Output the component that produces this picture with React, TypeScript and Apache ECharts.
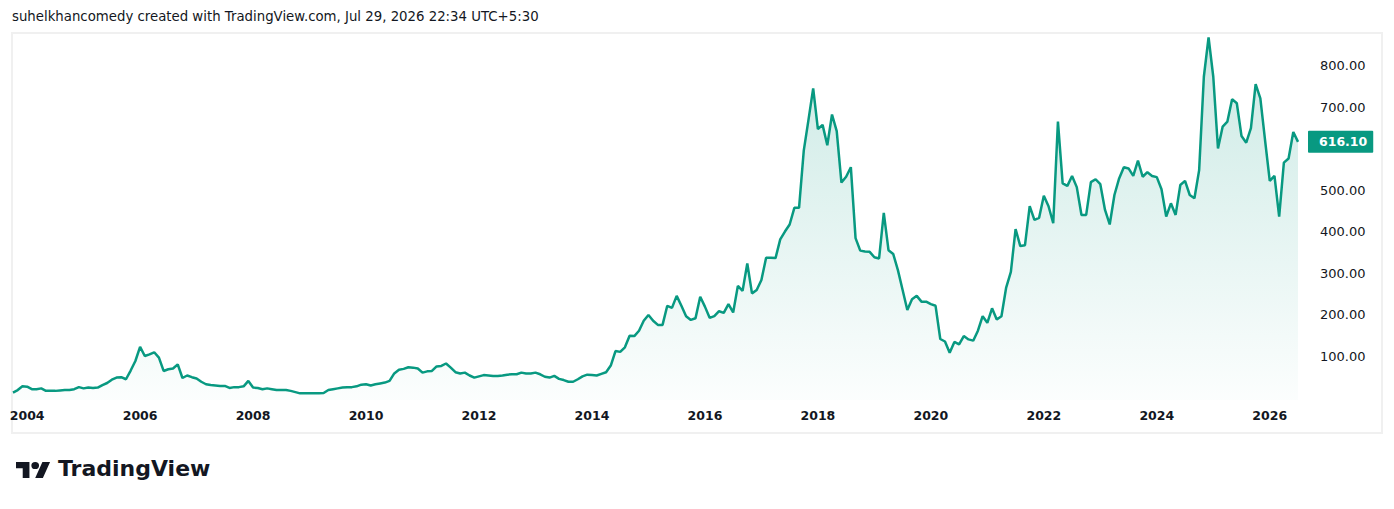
import React, { useEffect, useRef } from "react";
import * as echarts from "echarts";

// Monthly closes (first array starts in October 2003)
const v2003 = [12, 18, 27];
const v2004 = [26, 20, 20, 22, 16, 16, 16, 17, 18, 18, 20, 25];
const v2005 = [22, 24, 23, 24, 30, 35, 43, 48, 49, 44, 65, 88];
const v2006 = [122, 100, 104, 109, 96, 64, 68, 70, 80, 47, 53, 49];
const v2007 = [46, 38, 32, 30, 29, 28, 28, 23, 25, 25, 27, 40];
const v2008 = [24, 23, 20, 22, 20, 18, 18, 18, 16, 13, 10, 10];
const v2009 = [10, 10, 10, 11, 18, 20, 22, 24, 25, 25, 27, 31];
const v2010 = [32, 29, 32, 34, 36, 40, 58, 67, 69, 73, 72, 70];
const v2011 = [60, 63, 64, 75, 76, 82, 72, 61, 58, 60, 53, 48];
const v2012 = [51, 54, 53, 52, 52, 53, 55, 56, 56, 60, 58, 58];
const v2013 = [60, 56, 50, 48, 52, 45, 42, 38, 38, 44, 51, 55];
const v2014 = [54, 53, 57, 61, 77, 112, 110, 121, 149, 148, 161, 185];
const v2015 = [199, 185, 175, 175, 221, 216, 245, 221, 196, 187, 191, 243];
const v2016 = [219, 192, 196, 208, 204, 225, 205, 269, 257, 323, 251, 259];
const v2017 = [283, 337, 337, 336, 381, 400, 417, 457, 457, 595, 669, 745];
const v2018 = [647, 657, 608, 682, 642, 518, 532, 555, 384, 354, 352, 351];
const v2019 = [338, 335, 445, 355, 346, 307, 259, 211, 237, 245, 231, 231];
const v2020 = [225, 221, 141, 135, 108, 134, 128, 148, 140, 137, 161, 196];
const v2021 = [180, 215, 188, 196, 265, 303, 406, 365, 367, 461, 428, 433];
const v2022 = [486, 461, 420, 665, 516, 510, 534, 507, 440, 440, 519, 526];
const v2023 = [514, 452, 417, 488, 528, 555, 552, 534, 571, 532, 543, 534];
const v2024 = [531, 502, 436, 468, 440, 512, 522, 488, 480, 548, 773, 868];
const v2025 = [773, 600, 653, 665, 719, 709, 630, 614, 649, 755, 721, 620];
const v2026 = [522, 534, 436, 566, 576, 640, 616.1];

const years = [2003, 2004, 2005, 2006, 2007, 2008, 2009, 2010, 2011, 2012, 2013, 2014, 2015, 2016, 2017, 2018, 2019, 2020, 2021, 2022, 2023, 2024, 2025, 2026];
const yearValues = [v2003, v2004, v2005, v2006, v2007, v2008, v2009, v2010, v2011, v2012, v2013, v2014, v2015, v2016, v2017, v2018, v2019, v2020, v2021, v2022, v2023, v2024, v2025, v2026];
const firstMonth = 10;

const priceTicks = [100, 200, 300, 400, 500, 600, 700, 800];
const lastPrice = 616.1;
const titleText = "suhelkhancomedy created with TradingView.com, Jul 29, 2026 22:34 UTC+5:30";
const brandText = "TradingView";

const GREEN = "#089981";
const INK = "#131722";

const logoPath =
  "M14 22H7V11H0V4h14v18zM28 22h-8l7.5-18h8L28 22zM24 8a4 4 0 1 1-8 0a4 4 0 1 1 8 0z";

let registered = false;

export default function App() {
  const ref = useRef<HTMLDivElement>(null);

  useEffect(() => {
    if (!ref.current) return;
    if (!registered) {
      echarts.graphic.registerShape("tvlogo", echarts.graphic.extendPath(logoPath, {}));
      registered = true;
    }
    const categories: string[] = [];
    const values: number[] = [];
    years.forEach((y, yi) => {
      const arr = yearValues[yi];
      const m0 = yi === 0 ? firstMonth : 1;
      arr.forEach((v, k) => {
        const m = m0 + k;
        categories.push(`${y}-${m < 10 ? "0" + m : m}`);
        values.push(v);
      });
    });

    const chart = echarts.init(ref.current, null, { renderer: "svg" });
    chart.setOption({
      animation: false,
      backgroundColor: "#ffffff",
      grid: { left: 13, right: 96, top: 34, bottom: 109, containLabel: false },
      xAxis: {
        type: "category",
        data: categories,
        boundaryGap: false,
        axisLine: { show: false },
        axisTick: { show: false },
        splitLine: { show: false },
        axisLabel: {
          interval: (idx: number, val: string) => {
            const [y, m] = val.split("-");
            return m === "01" && Number(y) % 2 === 0;
          },
          formatter: (val: string) => val.slice(0, 4),
          color: INK,
          fontFamily: "DejaVu Sans",
          fontSize: 12.5,
          fontWeight: "bold",
          margin: 9,
        },
      },
      yAxis: {
        type: "value",
        position: "right",
        min: -6,
        max: 876,
        axisLine: { show: false },
        axisTick: { show: false },
        splitLine: { show: false },
        axisLabel: {
          customValues: priceTicks.filter((t) => Math.abs(t - lastPrice) > 30),
          formatter: (v: number) => v.toFixed(2),
          color: INK,
          fontFamily: "DejaVu Sans",
          fontSize: 13,
          margin: 22,
        },
      },
      series: [
        {
          type: "line",
          data: values,
          showSymbol: false,
          symbol: "none",
          lineStyle: { color: GREEN, width: 2.5 },
          itemStyle: { color: GREEN },
          areaStyle: {
            origin: "start",
            color: new echarts.graphic.LinearGradient(0, 0, 0, 1, [
              { offset: 0, color: "rgba(8,153,129,0.3)" },
              { offset: 1, color: "rgba(8,153,129,0.02)" },
            ]),
          },
          markLine: {
            silent: true,
            symbol: "none",
            animation: false,
            lineStyle: { color: "rgba(0,0,0,0)", width: 1, type: "solid" },
            data: [{ yAxis: lastPrice }],
            label: {
              show: true,
              position: "end",
              distance: 10,
              formatter: () => lastPrice.toFixed(2),
              color: "#ffffff",
              backgroundColor: GREEN,
              fontFamily: "DejaVu Sans",
              fontSize: 12.5,
              fontWeight: "bold",
              padding: [5, 6, 4, 11],
              borderRadius: 1,
            },
          },
        },
      ],
      graphic: [
        {
          type: "rect",
          z: -1,
          silent: true,
          shape: { x: 12, y: 33, width: 1370, height: 400 },
          style: { fill: "none", stroke: "#f0f0f0", lineWidth: 2 },
        },
        {
          type: "text",
          left: 12,
          top: 10,
          style: {
            text: titleText,
            fill: INK,
            font: "13.3px 'DejaVu Sans'",
          },
        },
        {
          type: "tvlogo",
          x: 16,
          y: 458.3,
          scaleX: 0.96,
          scaleY: 0.9,
          style: { fill: "#131722" },
        },
        {
          type: "text",
          left: 58,
          top: 457,
          style: {
            text: brandText,
            fill: "#131722",
            font: "bold 22px 'DejaVu Sans'",
          },
        },
      ],
    });
    return () => chart.dispose();
  }, []);

  return (
    <div
      ref={ref}
      style={{ position: "absolute", left: 0, top: 0, width: 1394, height: 509, background: "#fff" }}
    />
  );
}
